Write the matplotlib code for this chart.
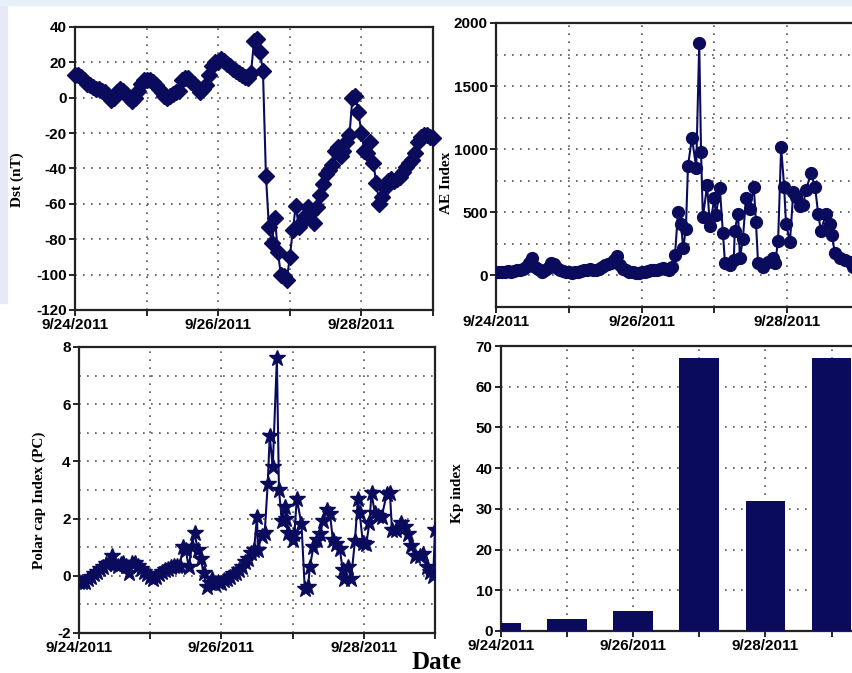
import matplotlib
matplotlib.use('Agg')
from matplotlib import pyplot as plt
from matplotlib.patches import Rectangle

# hours since 9/24/2011 00:00
dst_hours = list(range(0, 121))
dst_values = [13, 13, 12, 10, 8, 7, 6, 5, 5, 4, 3, 1, -1, 0, 3, 5, 4, 2, 0, -2,
              0, 4, 8, 10, 10, 10, 9, 7, 5, 3, 1, 0, 1, 2, 3, 4, 10, 11, 11, 9,
              8, 6, 3, 5, 7, 13, 18, 20, 20, 22, 21, 19, 18, 16, 15, 14, 13, 12, 11, 14,
              32, 33, 26, 15, -44, -73, -82, -68, -87, -100, -101, -103, -90, -75, -61, -73, -70, -67, -62, -65,
              -71, -62, -55, -49, -43, -41, -38, -30, -28, -33, -30, -25, -21, 0, 1, -8, -20, -30, -31, -25,
              -37, -48, -60, -56, -51, -47, -46, -47, -46, -45, -42, -39, -37, -35, -31, -25, -22, -21, -21, -22,
              -23]

ae_hours = list(range(0, 59)) + [
    59, 60, 61, 61.7, 62.6, 63.3, 64.6, 66, 67, 67.6, 68.2, 69.6, 70.5, 72, 72.5, 73.8, 74.8, 75.5,
    77, 78.4, 78.7, 79.8, 80.4, 81.4, 82.4, 83.6, 85, 85.7, 86.4, 88, 89.7, 91.3, 92, 93, 94, 95,
    95.6, 96.9, 98, 99, 100.2, 101.2, 102.2, 103.8, 105.2, 106.2, 107.1, 108.8, 110, 110.8, 111.7,
    113.4, 115, 116.7, 117.7, 119, 120]
ae_values = [30, 30, 28, 30, 32, 30, 35, 40, 45, 55, 70, 100, 140, 70, 50, 30, 40, 60, 100, 90,
             60, 40, 35, 30, 25, 20, 25, 30, 35, 40, 45, 50, 45, 40, 55, 70, 80, 90, 100, 120,
             155, 80, 50, 40, 30, 25, 20, 20, 25, 30, 35, 40, 45, 40, 50, 60, 55, 45, 70,
             160, 500, 410, 215, 370, 870, 1090, 855, 1840, 975, 460, 715, 395, 610, 475, 690, 340, 95,
             80, 120, 355, 490, 140, 290, 615, 530, 700, 420, 95, 65, 105, 140, 95, 275, 1015, 700,
             410, 265, 660, 620, 550, 560, 675, 810, 700, 490, 355, 490, 410, 320, 175,
             140, 120, 105, 65, 60, 50]

pc_hours = list(range(0, 60)) + [
    60, 60.3, 61.6, 62.6, 63.6, 64.3, 65.3, 66.7, 67.4, 68.4, 69.4, 69.9, 70.4, 72, 72.6, 73.4,
    75, 76.1, 77.2, 77.8, 79, 80.2, 81.3, 82.2, 83.5, 84.6, 85.6, 86.7, 87.9, 88.9, 89.3, 90.6,
    91.7, 93, 94, 94.6, 95.7, 96.8, 97.9, 98.6, 99.7, 100.9, 102, 103.7, 104.8, 105.5, 107,
    108.7, 109.8, 110.9, 111.8, 113.2, 114.8, 116, 117.2, 118.3, 119.4, 120]
pc_values = [-0.2, -0.22, -0.2, -0.1, -0.05, 0.05, 0.15, 0.25, 0.3, 0.4, 0.45, 0.7, 0.4, 0.35, 0.4,
             0.45, 0.35, 0.1, 0.45, 0.45, 0.35, 0.25, 0.15, 0.05, -0.05, -0.1, -0.05, 0.05, 0.15, 0.2,
             0.25, 0.3, 0.35, 0.35, 0.35, 1.0, 0.9, 0.3, 1.0, 1.5, 0.9, 0.6, 0.1, -0.4, -0.25,
             -0.1, -0.3, -0.2, -0.25, -0.15, -0.1, -0.05, 0.05, 0.1, 0.2, 0.3, 0.5, 0.6, 0.8, 0.9,
             2.06, 0.9, 1.4, 1.5, 3.2, 4.9, 3.8, 7.6, 3.0, 1.9, 2.4, 2.0, 1.5, 1.25, 1.45, 2.7,
             1.8, -0.45, -0.4, 0.3, 1.0, 1.25, 1.45, 1.9, 2.3, 2.15, 1.25, 1.1, 0.95, 0.2, -0.1, 0.3,
             -0.1, 1.2, 2.7, 2.2, 1.15, 1.1, 1.85, 2.9, 2.2, 2.1, 2.05, 2.85, 2.9, 1.6, 1.6,
             1.85, 1.7, 1.45, 1.05, 0.7, 0.7, 0.75, 0.3, 0.15, 0.0, 1.6]

kp_days = [0, 1, 2, 3, 4, 5]
kp_values = [2, 3, 5, 67, 32, 67]

date_labels = ['9/24/2011', '', '9/26/2011', '', '9/28/2011', '']

navy = '#0b0b5e'
grid_style = dict(color='#555555', linestyle=(0, (1, 3.8)), linewidth=1.2)
tick_font = dict(family='Liberation Sans', weight='bold', size=11)
label_font = dict(family='Liberation Serif', weight='bold', size=11)

W, H = 853, 673
fig = plt.figure(figsize=(W / 100, H / 100), dpi=100)

# faint slide background
fig.patches.append(Rectangle((0, 0.55), 0.008, 0.45, transform=fig.transFigure,
                             color='#e8e8f7', zorder=0))
fig.patches.append(Rectangle((0, 0.992), 1, 0.008, transform=fig.transFigure,
                             color='#e4f0fa', zorder=0))


def box(left, top, right, bottom):
    return [left / W, 1 - bottom / H, (right - left) / W, (bottom - top) / H]


def style(ax, yticks, ygrid, ylim, xmax, xstep, xticks_labels):
    ax.set_ylim(*ylim)
    ax.set_xlim(0, xmax)
    ax.set_yticks(yticks)
    ax.set_yticks(ygrid, minor=True)
    ax.set_xticks([i * xstep for i in range(len(xticks_labels))])
    ax.set_xticklabels(xticks_labels)
    ax.set_yticklabels([str(v) for v in yticks])
    for lab in ax.get_xticklabels() + ax.get_yticklabels():
        lab.set_fontfamily(tick_font['family'])
        lab.set_fontweight('bold')
        lab.set_fontsize(tick_font['size'])
    ax.tick_params(which='major', direction='out', length=4, width=1.2, pad=2)
    ax.tick_params(which='minor', length=0)
    ax.grid(True, which='both', **grid_style)
    ax.set_axisbelow(True)
    for s in ax.spines.values():
        s.set_linewidth(1.6)
        s.set_color('#222222')


# Dst
ax1 = fig.add_axes(box(75, 27, 433, 310))
ax1.plot(dst_hours, dst_values, color=navy, lw=1.5, marker='D', ms=8,
         mfc=navy, mec=navy, clip_on=False, zorder=3)
style(ax1, list(range(-120, 41, 20)), list(range(-120, 41, 20)), (-120, 40), 120, 24, date_labels)

# AE
ax2 = fig.add_axes(box(496, 23, 860, 307))
ax2.plot(ae_hours, ae_values, color=navy, lw=1.5, marker='o', ms=8.5,
         mfc=navy, mec=navy, zorder=3)
style(ax2, [0, 500, 1000, 1500, 2000], list(range(-250, 2001, 250)), (-250, 2000), 120, 24, date_labels)

# PC
ax3 = fig.add_axes(box(79, 347, 435, 633))
ax3.plot(pc_hours, pc_values, color=navy, lw=1.5, marker='*', ms=12,
         mfc=navy, mec=navy, zorder=3)
style(ax3, [-2, 0, 2, 4, 6, 8], list(range(-2, 9)), (-2, 8), 120, 24, date_labels)

# Kp
ax4 = fig.add_axes(box(501, 346, 858, 631))
ax4.bar(kp_days, kp_values, width=0.6, color=navy, zorder=3)
style(ax4, list(range(0, 71, 10)), list(range(0, 71, 10)), (0, 70), 5.4, 1, date_labels)

fig.text(17 / W, 1 - 180 / H, 'Dst (nT)', rotation=90, ha='center', va='center', **label_font)
fig.text(447 / W, 1 - 183 / H, 'AE Index', rotation=90, ha='center', va='center', **label_font)
fig.text(39 / W, 1 - 500 / H, 'Polar cap Index (PC)', rotation=90, ha='center', va='center', **label_font)
fig.text(457 / W, 1 - 493 / H, 'Kp index', rotation=90, ha='center', va='center', **label_font)
fig.text(437 / W, 1 - 669 / H, 'Date', ha='center', va='baseline',
         family='Liberation Serif', weight='bold', size=18)

fig.savefig('out.png', dpi=100)
